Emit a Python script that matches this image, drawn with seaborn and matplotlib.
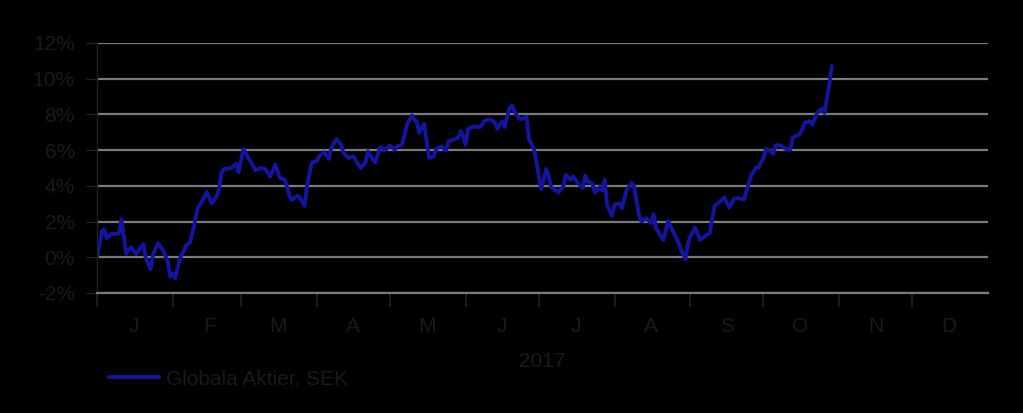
import numpy as np
import pandas as pd
import seaborn as sns
import matplotlib
matplotlib.use('Agg')
import matplotlib.pyplot as plt
import matplotlib.dates as mdates
from matplotlib.ticker import FuncFormatter, FixedLocator

# values (percent, 2017)
dates = [
    "2017-01-01", "2017-01-03", "2017-01-04", "2017-01-05", "2017-01-07", "2017-01-09", "2017-01-10",
    "2017-01-11", "2017-01-13", "2017-01-14", "2017-01-15", "2017-01-17", "2017-01-18", "2017-01-20",
    "2017-01-21", "2017-01-23", "2017-01-24", "2017-01-26", "2017-01-28", "2017-01-30", "2017-01-31",
    "2017-02-01", "2017-02-02", "2017-02-04", "2017-02-06", "2017-02-07", "2017-02-08", "2017-02-10",
    "2017-02-11", "2017-02-13", "2017-02-15", "2017-02-17", "2017-02-19", "2017-02-20", "2017-02-21",
    "2017-02-22", "2017-02-25", "2017-02-27", "2017-02-28", "2017-03-02", "2017-03-04", "2017-03-07",
    "2017-03-09", "2017-03-11", "2017-03-13", "2017-03-15", "2017-03-17", "2017-03-18", "2017-03-19",
    "2017-03-21", "2017-03-22", "2017-03-24", "2017-03-25", "2017-03-27", "2017-03-28", "2017-03-30",
    "2017-04-01", "2017-04-02", "2017-04-04", "2017-04-06", "2017-04-07", "2017-04-09", "2017-04-11",
    "2017-04-12", "2017-04-14", "2017-04-16", "2017-04-19", "2017-04-21", "2017-04-22", "2017-04-24",
    "2017-04-25", "2017-04-27", "2017-04-29", "2017-05-01", "2017-05-03", "2017-05-04", "2017-05-06",
    "2017-05-08", "2017-05-10", "2017-05-12", "2017-05-13", "2017-05-15", "2017-05-17", "2017-05-19",
    "2017-05-20", "2017-05-22", "2017-05-24", "2017-05-25", "2017-05-27", "2017-05-29", "2017-05-30",
    "2017-05-31", "2017-06-01", "2017-06-02", "2017-06-04", "2017-06-07", "2017-06-09", "2017-06-11",
    "2017-06-13", "2017-06-14", "2017-06-16", "2017-06-17", "2017-06-19", "2017-06-20", "2017-06-21",
    "2017-06-23", "2017-06-24", "2017-06-26", "2017-06-27", "2017-06-29", "2017-06-30", "2017-07-01",
    "2017-07-02", "2017-07-03", "2017-07-04", "2017-07-05", "2017-07-06", "2017-07-09", "2017-07-11",
    "2017-07-12", "2017-07-14", "2017-07-15", "2017-07-17", "2017-07-19", "2017-07-20", "2017-07-21",
    "2017-07-23", "2017-07-24", "2017-07-26", "2017-07-27", "2017-07-28", "2017-07-29", "2017-07-31",
    "2017-08-01", "2017-08-03", "2017-08-04", "2017-08-06", "2017-08-08", "2017-08-09", "2017-08-11",
    "2017-08-12", "2017-08-14", "2017-08-16", "2017-08-17", "2017-08-18", "2017-08-21", "2017-08-23",
    "2017-08-25", "2017-08-27", "2017-08-28", "2017-08-30", "2017-08-31", "2017-09-01", "2017-09-03",
    "2017-09-05", "2017-09-07", "2017-09-08", "2017-09-09", "2017-09-11", "2017-09-12", "2017-09-15",
    "2017-09-17", "2017-09-19", "2017-09-21", "2017-09-23", "2017-09-24", "2017-09-26", "2017-09-28",
    "2017-09-29", "2017-10-01", "2017-10-02", "2017-10-04", "2017-10-05", "2017-10-06", "2017-10-08",
    "2017-10-10", "2017-10-12", "2017-10-13", "2017-10-16", "2017-10-18", "2017-10-20", "2017-10-21",
    "2017-10-23", "2017-10-25", "2017-10-26", "2017-10-28", "2017-10-29",
]
values = [
    0.00, 1.44, 1.57, 1.07, 1.31, 1.31, 1.35,
    2.13, 0.19, 0.45, 0.56, 0.19, 0.37, 0.75,
    -0.06, -0.67, 0.19, 0.79, 0.41, -0.25, -1.09,
    -0.90, -1.18, -0.06, 0.50, 0.75, 0.79, 1.87,
    2.66, 3.12, 3.65, 3.03, 3.40, 3.82, 4.72,
    4.94, 5.00, 5.24, 4.75, 6.07, 5.56, 4.87,
    5.00, 4.94, 4.53, 5.19, 4.44, 4.38, 4.34,
    3.40, 3.22, 3.44, 3.37, 2.88, 3.97, 5.31,
    5.37, 5.65, 5.88, 5.51, 6.12, 6.63, 6.31,
    5.84, 5.56, 5.65, 5.00, 5.31, 5.93, 5.47,
    5.31, 6.18, 5.99, 6.25, 6.03, 6.21, 6.31,
    7.43, 7.94, 7.56, 6.97, 7.47, 5.56, 5.65,
    6.07, 6.21, 5.97, 6.49, 6.59, 6.69, 7.06,
    6.78, 6.31, 7.19, 7.30, 7.30, 7.67, 7.71,
    7.56, 7.19, 7.62, 7.30, 8.37, 8.50, 8.18,
    7.75, 7.75, 7.87, 6.59, 6.07, 5.37, 4.53,
    3.82, 4.34, 4.94, 4.62, 3.93, 3.63, 3.97,
    4.62, 4.34, 4.53, 4.16, 3.88, 4.57, 4.25,
    4.12, 3.63, 3.93, 3.74, 4.34, 2.94, 2.32,
    2.94, 3.03, 2.75, 3.78, 4.16, 3.97, 2.38,
    2.00, 2.19, 1.91, 2.42, 1.63, 0.97, 2.04,
    1.44, 0.88, 0.51, -0.10, 0.69, 1.16, 1.66,
    0.97, 1.16, 1.29, 1.35, 2.90, 2.98, 3.35,
    2.79, 3.28, 3.31, 3.22, 3.69, 4.58, 5.03,
    5.03, 5.56, 6.08, 5.93, 5.79, 6.27, 6.27,
    6.08, 6.03, 6.69, 6.91, 7.53, 7.62, 7.43,
    8.09, 8.33, 8.09, 9.68, 10.71,
]
series_name = "Globala Aktier, SEK"
month_labels = ["J", "F", "M", "A", "M", "J", "J", "A", "S", "O", "N", "D"]
year_label = "2017"
y_ticks = [-2, 0, 2, 4, 6, 8, 10, 12]

df = pd.DataFrame({"date": pd.to_datetime(dates), "value": values, "serie": series_name})

sns.set_theme(style="white")
plt.rcParams['font.family'] = ['Liberation Sans', 'DejaVu Sans']

bg = "black"
txt = "#1a1a1a"
grid = "#7a7a7a"
line_col = "#1414a0"
fs = 15

fig = plt.figure(figsize=(10.23, 4.13), dpi=100)
fig.patch.set_facecolor(bg)
ax = fig.add_axes([0.0948, 0.2906, 0.8710, 0.6053])
ax.set_facecolor(bg)

sns.lineplot(data=df, x="date", y="value", hue="serie", palette=[line_col],
             linewidth=2.8, ax=ax, legend=False)

ax.set_ylim(-2, 12)
ax.set_yticks(y_ticks)
ax.yaxis.set_major_formatter(FuncFormatter(lambda v, p: f"{v:.0f}%"))
ax.set_xlim(pd.Timestamp("2017-01-01"), pd.Timestamp("2018-01-01"))

months = pd.date_range("2017-01-01", "2017-12-01", freq="MS")
mids = months + pd.Timedelta(days=15)
ax.xaxis.set_major_locator(FixedLocator(mdates.date2num(months)))
ax.xaxis.set_major_formatter(FuncFormatter(lambda v, p: ""))
ax.xaxis.set_minor_locator(FixedLocator(mdates.date2num(mids)))
ax.set_xticklabels(month_labels, minor=True)

ax.grid(axis="y", color=grid, linewidth=1.6)
ax.grid(axis="x", visible=False)
for s in ["top", "right"]:
    ax.spines[s].set_visible(False)
ax.spines["left"].set_color("#202020")
ax.spines["left"].set_linewidth(1.0)
ax.spines["bottom"].set_color(grid)
ax.spines["bottom"].set_linewidth(1.6)

ax.tick_params(axis="y", which="major", left=True, length=8, width=1, color="#202020",
               labelsize=fs, labelcolor=txt, pad=8)
ax.tick_params(axis="x", which="major", bottom=True, length=10, width=1.2, color="#202020")
ax.tick_params(axis="x", which="minor", bottom=True, length=0, labelsize=fs,
               labelcolor=txt, pad=17)

ax.set_xlabel(year_label, fontsize=fs, color=txt, labelpad=12)
ax.set_ylabel("")

handle = plt.Line2D([], [], color=line_col, linewidth=2.8)
fig.legend([handle], [series_name], loc="center left", bbox_to_anchor=(0.088, 0.083),
           frameon=False, fontsize=fs, labelcolor=txt, handlelength=2.4, handletextpad=0.35)

fig.savefig("out.png", dpi=100, facecolor=bg)
